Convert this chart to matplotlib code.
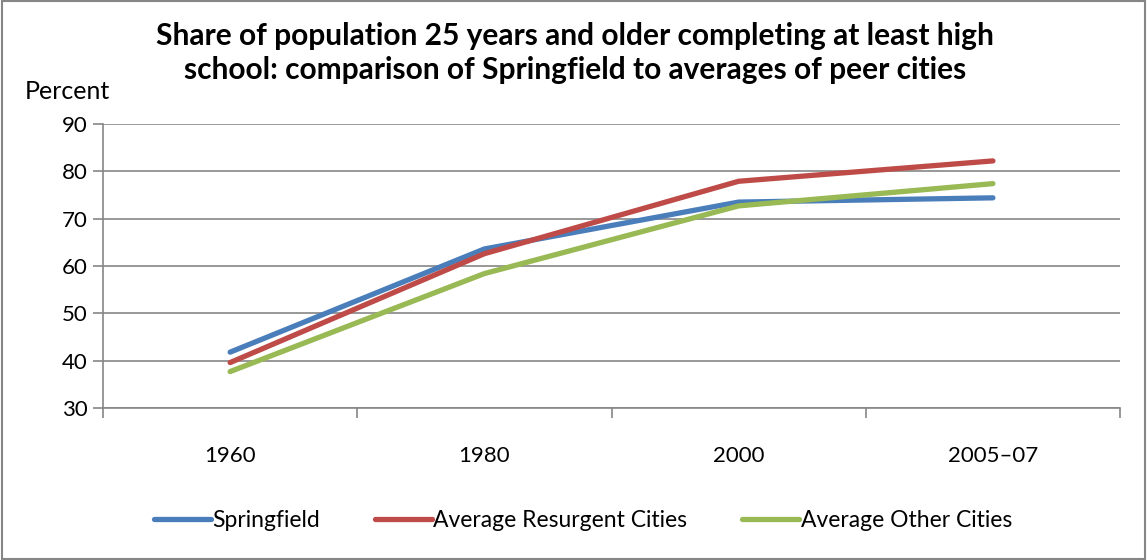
import matplotlib
matplotlib.use('Agg')
import matplotlib.pyplot as plt
from matplotlib.patches import Rectangle

# data
periods = ['1960', '1980', '2000', '2005\u201307']
springfield = [41.8, 63.6, 73.5, 74.4]
resurgent = [39.6, 62.6, 77.9, 82.2]
other = [37.7, 58.4, 72.7, 77.4]

y_ticks = [30, 40, 50, 60, 70, 80, 90]

plt.rcParams['font.family'] = ['Lato', 'DejaVu Sans']

fig = plt.figure(figsize=(11.47, 5.60), dpi=100)
ax = fig.add_axes([0.0898, 0.2714, 0.8867, 0.5072])

grid_c = '#868686'
x = list(range(len(periods)))
ax.plot(x, springfield, color='#4A7EBB', lw=3.8, solid_capstyle='round', label='Springfield', zorder=3)
ax.plot(x, resurgent, color='#BE4B48', lw=3.8, solid_capstyle='round', label='Average Resurgent Cities', zorder=3)
ax.plot(x, other, color='#98B954', lw=3.8, solid_capstyle='round', label='Average Other Cities', zorder=3)

ax.set_xlim(-0.5, len(periods) - 0.5)
ax.set_ylim(30, 90)
ax.set_yticks(y_ticks)
ax.yaxis.grid(True, color=grid_c, lw=1.2)
ax.set_axisbelow(True)

ax.set_xticks(x)
ax.set_xticklabels(periods)
ax.tick_params(axis='x', which='major', length=0, pad=27, labelsize=16)
ax.set_xticks([i - 0.5 for i in range(len(periods) + 1)], minor=True)
ax.tick_params(axis='x', which='minor', length=7, width=1.2, color=grid_c, direction='out')
ax.tick_params(axis='y', length=7, width=1.2, color=grid_c, labelsize=16, pad=4)

for s in ['top', 'right']:
    ax.spines[s].set_visible(False)
for s in ['left', 'bottom']:
    ax.spines[s].set_color(grid_c)
    ax.spines[s].set_linewidth(1.2)

fig.text(0.5015, 0.905, 'Share of population 25 years and older completing at least high\n'
         'school: comparison of Springfield to averages of peer cities',
         ha='center', va='center', fontsize=21.5, fontweight='bold', linespacing=1.25)
fig.text(0.022, 0.836, 'Percent', ha='left', va='center', fontsize=18)

leg = fig.legend(loc='center', bbox_to_anchor=(0.508, 0.071), ncol=3, frameon=False,
                 fontsize=16.5, handlelength=2.5, handletextpad=0.05, columnspacing=2.4)

fig.patches.append(Rectangle((0.002, 0.002), 0.996, 0.996, transform=fig.transFigure,
                             fill=False, edgecolor='#868686', lw=1.5))

fig.savefig('out.png', dpi=100)
